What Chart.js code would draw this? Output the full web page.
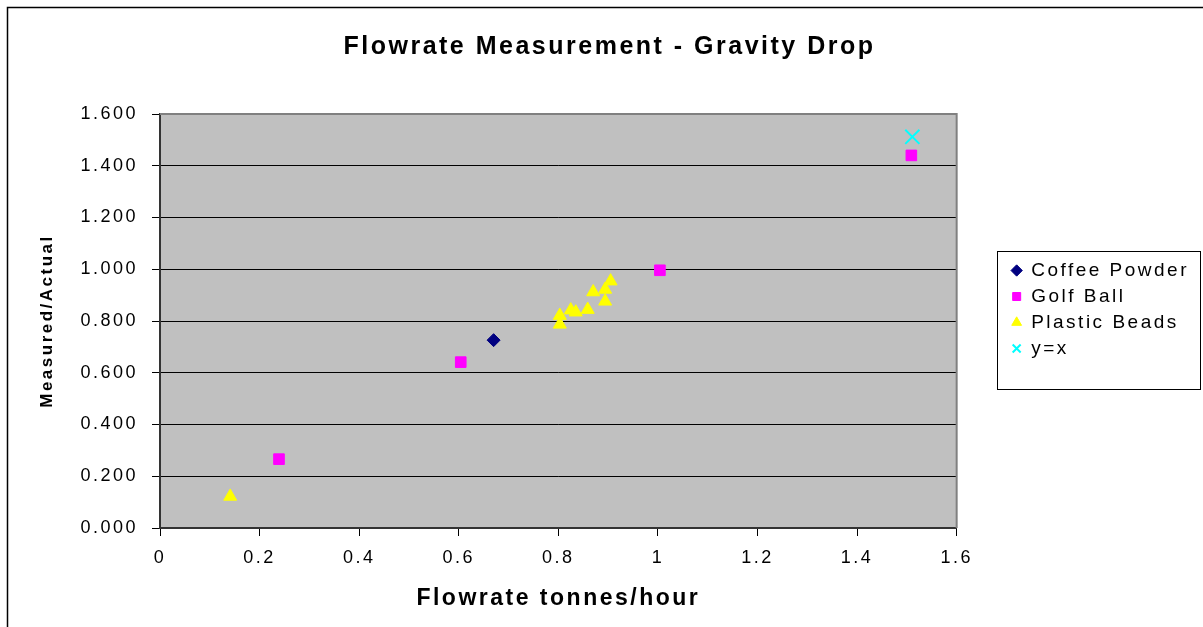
<!DOCTYPE html>
<html>
<head>
<meta charset="utf-8">
<title>Flowrate Measurement - Gravity Drop</title>
<script src="https://cdn.jsdelivr.net/npm/chart.js@4.4.1/dist/chart.umd.min.js"></script>
<style>
  html, body { margin: 0; padding: 0; background: #fff; }
  #wrap { width: 1203px; height: 627px; }
</style>
</head>
<body>
<div id="wrap"><canvas id="flowChart" width="1203" height="627"></canvas></div>
<script>
'use strict';

// --- Data ---
const coffeeX = [0.670];
const coffeeY = [0.726];

const golfX = [0.239, 0.604, 1.004, 1.509];
const golfY = [0.266, 0.641, 0.996, 1.440];

const beadsX = [0.141, 0.803, 0.803, 0.825, 0.835, 0.859, 0.870, 0.894, 0.894, 0.905];
const beadsY = [0.122, 0.787, 0.821, 0.842, 0.834, 0.844, 0.912, 0.876, 0.922, 0.954];

const refX = [1.511];
const refY = [1.512];

const axisMin = 0;
const axisMax = 1.6;
const axisStep = 0.2;

function toPoints(xs, ys) {
    return xs.map((x, i) => ({ x: x, y: ys[i] }));
}

// --- Layout numbers ---
const W = 1203, H = 627;
const PAD = { left: 20, right: 4, top: 0, bottom: 8 };
const PLOT_LEFT = 160;
const PLOT_BOTTOM = 528;
const SPACING = '2.5px';

Chart.defaults.font.family = "'Liberation Sans', Arial, sans-serif";
Chart.defaults.color = '#000';

// Excel-ish wide text, plot fill, borders and legend frame
const excelFrame = {
    id: 'excelFrame',
    beforeLayout(chart) {
        chart.ctx.letterSpacing = SPACING;
    },
    beforeDraw(chart) {
        const { ctx, chartArea: a } = chart;
        ctx.letterSpacing = SPACING;
        ctx.save();
        ctx.fillStyle = '#fff';
        ctx.fillRect(0, 0, W, H);
        ctx.strokeStyle = '#000';
        ctx.lineWidth = 1.5;
        ctx.strokeRect(7.5, 7.5, W + 10, H + 10);
        ctx.fillStyle = '#c0c0c0';
        ctx.fillRect(a.left, a.top, a.right - a.left, a.bottom - a.top);
        ctx.restore();
    },
    beforeDatasetsDraw(chart) {
        const { ctx, chartArea: a } = chart;
        ctx.save();
        ctx.strokeStyle = '#808080';
        ctx.lineWidth = 2;
        ctx.beginPath();
        ctx.moveTo(a.left, a.top);
        ctx.lineTo(a.right, a.top);
        ctx.lineTo(a.right, a.bottom);
        ctx.stroke();
        ctx.restore();
    },
    afterDraw(chart) {
        const lg = chart.legend;
        if (!lg || !lg.legendHitBoxes.length) return;
        const { ctx } = chart;
        const top = lg.legendHitBoxes[0].top - 10;
        const left = Math.round(lg.left) - 7.5;
        const right = Math.min(W - 2.5, Math.round(lg.right) + 1.5);
        ctx.save();
        ctx.strokeStyle = '#000';
        ctx.lineWidth = 1;
        ctx.strokeRect(left, Math.round(top) + 0.5, right - left, 138);
        ctx.restore();
    }
};

new Chart(document.getElementById('flowChart'), {
    type: 'scatter',
    data: {
        datasets: [
            {
                label: 'Coffee Powder',
                data: toPoints(coffeeX, coffeeY),
                pointStyle: 'rectRot',
                backgroundColor: '#000080',
                borderColor: '#000080',
                borderWidth: 1,
                pointRadius: 6.5
            },
            {
                label: 'Golf Ball',
                data: toPoints(golfX, golfY),
                pointStyle: 'rect',
                backgroundColor: '#ff00ff',
                borderColor: '#ff00ff',
                borderWidth: 1,
                pointRadius: 7.5
            },
            {
                label: 'Plastic Beads',
                data: toPoints(beadsX, beadsY),
                pointStyle: 'triangle',
                backgroundColor: '#ffff00',
                borderColor: '#ffff00',
                borderWidth: 1,
                pointRadius: 7.5
            },
            {
                label: 'y=x',
                data: toPoints(refX, refY),
                pointStyle: 'crossRot',
                backgroundColor: '#00ffff',
                borderColor: '#00ffff',
                borderWidth: 2,
                pointRadius: 10
            }
        ]
    },
    options: {
        responsive: false,
        animation: false,
        layout: { padding: PAD },
        plugins: {
            title: {
                display: true,
                text: 'Flowrate Measurement - Gravity Drop',
                font: { size: 25, weight: 'bold' },
                color: '#000',
                padding: { top: 32, bottom: 52 }
            },
            legend: {
                position: 'right',
                labels: {
                    usePointStyle: true,
                    boxWidth: 10,
                    boxHeight: 8,
                    padding: 7,
                    color: '#000',
                    font: { size: 19 }
                }
            },
            tooltip: { enabled: false }
        },
        scales: {
            x: {
                type: 'linear',
                position: 'bottom',
                min: axisMin, max: axisMax,
                ticks: {
                    stepSize: axisStep, padding: 11, font: { size: 18 }, color: '#000',
                    callback: v => String(parseFloat(Number(v).toFixed(1)))
                },
                grid: { drawOnChartArea: false, drawTicks: true, tickLength: 8, color: '#000' },
                border: { color: '#333', width: 2 },
                title: {
                    display: true,
                    text: 'Flowrate tonnes/hour',
                    font: { size: 23, weight: 'bold' },
                    color: '#000',
                    padding: { top: 4, bottom: 7 }
                },
                afterFit: s => { s.height = H - PAD.bottom - PLOT_BOTTOM; }
            },
            y: {
                type: 'linear',
                min: axisMin, max: axisMax,
                ticks: {
                    stepSize: axisStep, padding: 14, font: { size: 18 }, color: '#000',
                    callback: v => Number(v).toFixed(3)
                },
                grid: { color: '#000', tickLength: 8, lineWidth: 1 },
                border: { color: '#333', width: 2 },
                title: {
                    display: true,
                    text: 'Measured/Actual',
                    font: { size: 17, weight: 'bold' },
                    color: '#000',
                    padding: { top: 17, bottom: 0 }
                },
                afterFit: s => { s.width = PLOT_LEFT - PAD.left; }
            },
            // empty strip between the plot and the legend
            gap: {
                type: 'linear',
                position: 'right',
                display: true,
                grid: { display: false, drawTicks: false },
                ticks: { display: false },
                border: { display: false },
                afterFit: s => { s.width = 48; }
            }
        }
    },
    plugins: [excelFrame]
});
</script>
</body>
</html>
